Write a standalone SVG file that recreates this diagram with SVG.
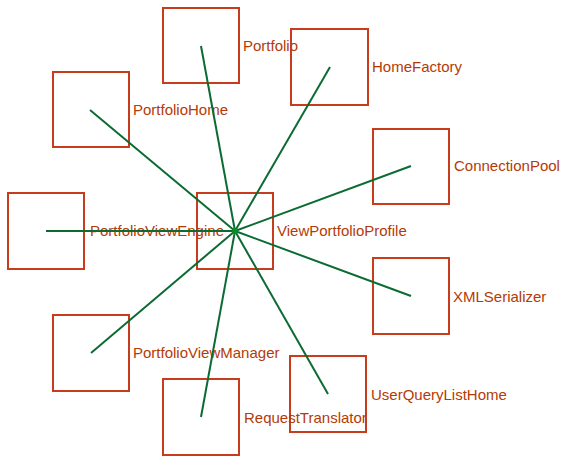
<svg xmlns="http://www.w3.org/2000/svg" width="564" height="458" viewBox="0 0 564 458">
<style>
.box{fill:none;stroke:#c83c1e;stroke-width:2}
.lbl{font-family:"Liberation Sans",Arial,sans-serif;font-size:15px;fill:#b53a06}
.edge{stroke:#0b6b32;stroke-width:2;fill:none}
</style>
<rect width="564" height="458" fill="#ffffff"/>
<g id="Portfolio"><rect class="box" x="163" y="8" width="76" height="75"/><text class="lbl" x="243" y="51">Portfolio</text></g>
<g id="HomeFactory"><rect class="box" x="291" y="29" width="77" height="76"/><text class="lbl" x="372" y="72">HomeFactory</text></g>
<g id="PortfolioHome"><rect class="box" x="53" y="72" width="76" height="75"/><text class="lbl" x="133" y="115">PortfolioHome</text></g>
<g id="ConnectionPool"><rect class="box" x="373" y="129" width="76" height="75"/><text class="lbl" x="454" y="171">ConnectionPool</text></g>
<g id="PortfolioViewEngine"><rect class="box" x="8" y="193" width="76" height="76"/><text class="lbl" x="90" y="236">PortfolioViewEngine</text></g>
<g id="ViewPortfolioProfile"><rect class="box" x="197" y="193" width="76" height="76"/><text class="lbl" x="277" y="236">ViewPortfolioProfile</text></g>
<g id="XMLSerializer"><rect class="box" x="373" y="258" width="76" height="76"/><text class="lbl" x="453" y="302">XMLSerializer</text></g>
<g id="PortfolioViewManager"><rect class="box" x="53" y="315" width="76" height="76"/><text class="lbl" x="133" y="358">PortfolioViewManager</text></g>
<g id="UserQueryListHome"><rect class="box" x="290" y="356" width="76" height="76"/><text class="lbl" x="371" y="400">UserQueryListHome</text></g>
<g id="RequestTranslator"><rect class="box" x="163" y="379" width="76" height="76"/><text class="lbl" x="244" y="423">RequestTranslator</text></g>
<g id="connectors">
<line class="edge" x1="235" y1="231" x2="201" y2="46"/>
<line class="edge" x1="235" y1="231" x2="330" y2="67"/>
<line class="edge" x1="235" y1="231" x2="90" y2="110"/>
<line class="edge" x1="235" y1="231" x2="411" y2="166"/>
<line class="edge" x1="235" y1="231" x2="46" y2="231"/>
<line class="edge" x1="235" y1="231" x2="411" y2="296"/>
<line class="edge" x1="235" y1="231" x2="91" y2="353"/>
<line class="edge" x1="235" y1="231" x2="328" y2="394"/>
<line class="edge" x1="235" y1="231" x2="201" y2="417"/>
<circle cx="235" cy="231" r="3" fill="#0b8a2a"/>
</g>
</svg>
